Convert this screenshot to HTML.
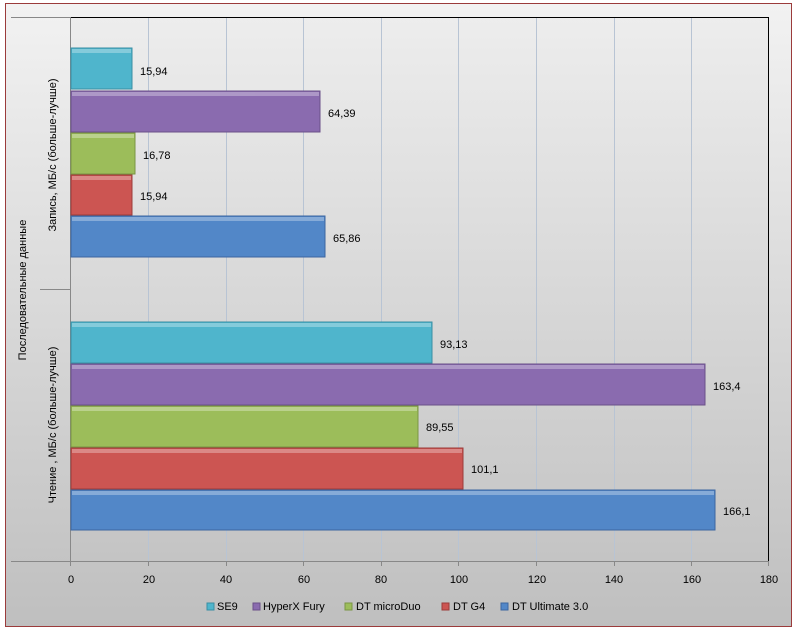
<!DOCTYPE html>
<html><head><meta charset="utf-8"><style>body{margin:0}svg{display:block}text{font-family:"Liberation Sans","DejaVu Sans",sans-serif;font-size:11px;fill:#000}</style></head><body>
<svg width="799" height="634" viewBox="0 0 799 634" xmlns="http://www.w3.org/2000/svg">
<defs>
<linearGradient id="bg" x1="0" y1="0" x2="0" y2="1"><stop offset="0" stop-color="#f2f2f2"/><stop offset="1" stop-color="#bfbfbf"/></linearGradient>
<linearGradient id="pa" x1="0" y1="0" x2="0" y2="1"><stop offset="0" stop-color="#ededed"/><stop offset="1" stop-color="#c4c4c4"/></linearGradient>
</defs>
<rect x="0" y="0" width="799" height="634" fill="#fff"/>
<rect x="5.5" y="3.5" width="786" height="623" fill="url(#bg)" stroke="#9b3b3b" stroke-width="1"/>
<rect x="70" y="17" width="699" height="544" fill="url(#pa)"/>
<g stroke="#b8c4d4" stroke-width="1">
<line x1="148.5" y1="17" x2="148.5" y2="561"/><line x1="226.5" y1="17" x2="226.5" y2="561"/><line x1="303.5" y1="17" x2="303.5" y2="561"/><line x1="381.5" y1="17" x2="381.5" y2="561"/><line x1="458.5" y1="17" x2="458.5" y2="561"/><line x1="536.5" y1="17" x2="536.5" y2="561"/><line x1="614.5" y1="17" x2="614.5" y2="561"/><line x1="691.5" y1="17" x2="691.5" y2="561"/>
</g>
<line x1="70" y1="17.5" x2="769" y2="17.5" stroke="#000"/>
<line x1="768.5" y1="17" x2="768.5" y2="561" stroke="#000"/>
<g stroke="#888" stroke-width="1">
<line x1="70.5" y1="17" x2="70.5" y2="566"/>
<line x1="11" y1="17.5" x2="70" y2="17.5"/>
<line x1="40" y1="289.5" x2="70" y2="289.5"/>
<line x1="11" y1="561.5" x2="769" y2="561.5"/>
<line x1="148.5" y1="561" x2="148.5" y2="566"/><line x1="226.5" y1="561" x2="226.5" y2="566"/><line x1="303.5" y1="561" x2="303.5" y2="566"/><line x1="381.5" y1="561" x2="381.5" y2="566"/><line x1="458.5" y1="561" x2="458.5" y2="566"/><line x1="536.5" y1="561" x2="536.5" y2="566"/><line x1="614.5" y1="561" x2="614.5" y2="566"/><line x1="691.5" y1="561" x2="691.5" y2="566"/><line x1="768.5" y1="561" x2="768.5" y2="566"/>
</g>
<g stroke-width="1">
<rect x="71" y="48" width="61" height="41" fill="#4fb5cc" stroke="#3a8ea3"/>
<rect x="71" y="91" width="249" height="41" fill="#8a6baf" stroke="#6b5089"/>
<rect x="71" y="133" width="64" height="41" fill="#9cbd5a" stroke="#7a9544"/>
<rect x="71" y="175" width="61" height="40" fill="#cc5552" stroke="#9c3c3a"/>
<rect x="71" y="216" width="254" height="41" fill="#5287c8" stroke="#3c66a0"/>
<rect x="71" y="322" width="361" height="41" fill="#4fb5cc" stroke="#3a8ea3"/>
<rect x="71" y="364" width="634" height="41" fill="#8a6baf" stroke="#6b5089"/>
<rect x="71" y="406" width="347" height="41" fill="#9cbd5a" stroke="#7a9544"/>
<rect x="71" y="448" width="392" height="41" fill="#cc5552" stroke="#9c3c3a"/>
<rect x="71" y="490" width="644" height="40" fill="#5287c8" stroke="#3c66a0"/>
</g>
<g fill="#fff" opacity="0.3">
<rect x="72" y="49" width="59" height="4"/><rect x="72" y="92" width="247" height="4"/><rect x="72" y="134" width="62" height="4"/><rect x="72" y="176" width="59" height="4"/><rect x="72" y="217" width="252" height="4"/>
<rect x="72" y="323" width="359" height="4"/><rect x="72" y="365" width="632" height="4"/><rect x="72" y="407" width="345" height="4"/><rect x="72" y="449" width="390" height="4"/><rect x="72" y="491" width="642" height="4"/>
</g>
<text x="140" y="75">15,94</text>
<text x="328" y="117">64,39</text>
<text x="143" y="159">16,78</text>
<text x="140" y="200">15,94</text>
<text x="333" y="242">65,86</text>
<text x="440" y="348">93,13</text>
<text x="713" y="390">163,4</text>
<text x="426" y="431">89,55</text>
<text x="471" y="473">101,1</text>
<text x="723" y="515">166,1</text>
<g text-anchor="middle">
<text x="71" y="583">0</text><text x="149" y="583">20</text><text x="226" y="583">40</text><text x="304" y="583">60</text><text x="381" y="583">80</text><text x="459" y="583">100</text><text x="537" y="583">120</text><text x="614" y="583">140</text><text x="692" y="583">160</text><text x="769" y="583">180</text>
</g>
<text transform="translate(26,290) rotate(-90)" text-anchor="middle">Последовательные данные</text>
<text transform="translate(56,155) rotate(-90)" text-anchor="middle">Запись, МБ/с (больше-лучше)</text>
<text transform="translate(56,425) rotate(-90)" text-anchor="middle">Чтение , МБ/с (больше-лучше)</text>
<g font-size="11">
<rect x="207" y="603" width="7" height="7" fill="#4fb5cc" stroke="#3a8ea3"/><text x="217" y="610">SE9</text>
<rect x="253" y="603" width="7" height="7" fill="#8a6baf" stroke="#6b5089"/><text x="263" y="610">HyperX Fury</text>
<rect x="345" y="603" width="7" height="7" fill="#9cbd5a" stroke="#7a9544"/><text x="356" y="610">DT microDuo</text>
<rect x="442" y="603" width="7" height="7" fill="#cc5552" stroke="#9c3c3a"/><text x="453" y="610">DT G4</text>
<rect x="501" y="603" width="7" height="7" fill="#5287c8" stroke="#3c66a0"/><text x="512" y="610">DT Ultimate 3.0</text>
</g>
</svg>
</body></html>
